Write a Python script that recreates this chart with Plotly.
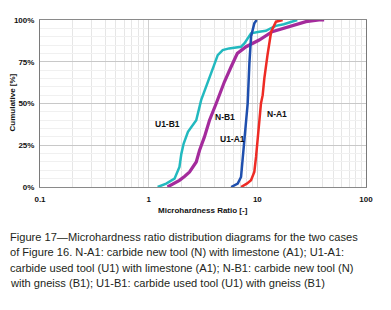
import math
import plotly.graph_objects as go

# ---- data ----
u1b1_ratio = [1.21, 1.45, 1.73, 1.92, 2.0, 2.1, 2.3, 2.74, 3.04, 3.3, 3.63, 4.0, 4.32, 4.8, 5.5, 6.4,
              7.08, 7.6, 8.1, 8.75, 10.4, 12.0, 13.7, 14.8, 17.5, 20.9, 23.3]
u1b1_cum = [0, 2, 5, 12, 20, 26, 33, 40, 52, 58, 65, 73, 79, 82, 83, 83.5,
            84, 86, 89, 92, 93, 93.5, 95.5, 96.5, 97.5, 99, 100]

nb1_ratio = [1.49, 1.7, 1.92, 2.15, 2.38, 2.74, 2.94, 3.26, 3.63, 4.18, 4.98, 5.74, 6.55, 7.88,
             10.4, 13.7, 19.7, 28.0, 37.0, 41.2]
nb1_cum = [0, 2, 4, 6.5, 9, 15, 22, 30, 40, 50, 63, 72, 80, 84,
           88, 93, 96, 99, 100, 100]

u1a1_ratio = [5.74, 6.6, 7.08, 7.33, 7.6, 7.88, 8.15, 8.45, 8.75, 9.38, 9.86]
u1a1_cum = [0, 2, 6, 18, 30, 42, 50, 74, 90, 98, 100]

na1_ratio = [7.08, 8.0, 8.75, 9.38, 9.73, 10.07, 10.4, 10.8, 11.2, 11.6, 12.4, 13.4, 14.85, 17.1]
na1_cum = [0, 2, 4, 9, 18, 30, 42, 50, 55, 65, 79, 93, 99, 100]

x_ticks = [0.1, 1, 10, 100]
x_tick_labels = ["0.1", "1", "10", "100"]
y_ticks = [0, 25, 50, 75, 100]
y_tick_labels = ["0%", "25%", "50%", "75%", "100%"]

series = [
    ("U1-B1", u1b1_ratio, u1b1_cum, "#22b9bf", 2.5),
    ("N-B1", nb1_ratio, nb1_cum, "#a42b9c", 3.2),
    ("U1-A1", u1a1_ratio, u1a1_cum, "#1f4fae", 2.5),
    ("N-A1", na1_ratio, na1_cum, "#ee2b25", 2.5),
]

labels = [
    ("U1-B1", 1.49, 37.7),
    ("N-B1", 5.09, 42.0),
    ("U1-A1", 5.9, 28.7),
    ("N-A1", 15.3, 43.7),
]

caption = [
    "Figure 17\u2014Microhardness ratio distribution diagrams for the two cases",
    "of Figure 16. N-A1: carbide new tool (N) with limestone (A1); U1-A1:",
    "carbide used tool (U1) with limestone (A1); N-B1: carbide new tool (N)",
    "with gneiss (B1); U1-B1: carbide used tool (U1) with gneiss (B1)",
]

FONT = "Liberation Sans, Arial, sans-serif"

fig = go.Figure()
for name, xs, ys, col, w in series:
    fig.add_trace(go.Scatter(x=xs, y=ys, mode="lines", name=name,
                             line=dict(color=col, width=w), showlegend=False))

# the page body has an 8px margin, so the figure is drawn from (8, 8)
OFF = 8
W, H = 391 - OFF, 310 - OFF
L, R, T, B = 40 - OFF, 25, 20 - OFF, 123
pw = W - L - R
ph = H - T - B

def px_x(xpx):
    return (xpx - OFF - L) / pw

def px_y(ypx):
    return (H - B - (ypx - OFF)) / ph

annotations = []
for txt, x, y in labels:
    annotations.append(dict(x=math.log10(x), y=y, xref="x", yref="y",
                            text=txt, showarrow=False,
                            font=dict(family=FONT, size=8.5, color="#111", weight="bold")))

# axis titles
annotations.append(dict(x=px_x(203), y=px_y(210), xref="paper", yref="paper",
                        text="Microhardness Ratio [-]", showarrow=False,
                        xanchor="center", yanchor="middle",
                        font=dict(family=FONT, size=8, color="#111", weight="bold")))
annotations.append(dict(x=px_x(11.5), y=px_y(103), xref="paper", yref="paper",
                        text="Cumulative [%]", showarrow=False, textangle=-90,
                        xanchor="center", yanchor="middle",
                        font=dict(family=FONT, size=8, color="#111", weight="bold")))

line_y = [236.7, 252.3, 267.8, 283.3]
for txt, ypx in zip(caption, line_y):
    annotations.append(dict(x=px_x(OFF), y=px_y(ypx),
                            xref="paper", yref="paper", xanchor="left", yanchor="middle",
                            text=txt, showarrow=False, align="left",
                            font=dict(family=FONT, size=11.1, color="#231f20")))

fig.update_layout(
    width=W, height=H,
    margin=dict(l=L, r=R, t=T, b=B, autoexpand=False),
    paper_bgcolor="white", plot_bgcolor="white",
    font=dict(family=FONT, color="#111"),
    annotations=annotations,
    xaxis=dict(
        type="log", range=[-1, 2], automargin=False,
        tickvals=x_ticks, ticktext=x_tick_labels,
        tickfont=dict(size=8, weight="bold", color="#111"),
        showgrid=True, gridcolor="#cfcfcf", gridwidth=1,
        minor=dict(dtick="D1", showgrid=True, gridcolor="#e6e6e6", gridwidth=1, ticks=""),
        showline=True, linecolor="#8a8a8a", linewidth=1, mirror=True,
        ticks="", zeroline=False, ticklabelstandoff=4,
    ),
    yaxis=dict(
        range=[0, 100], automargin=False,
        tickvals=y_ticks, ticktext=y_tick_labels,
        tickfont=dict(size=8, weight="bold", color="#111"),
        showgrid=True, gridcolor="#c8c8c8", gridwidth=1,
        minor=dict(dtick=5, showgrid=True, gridcolor="#f0f0f0", gridwidth=1, ticks=""),
        showline=True, linecolor="#7a7a7a", linewidth=1, mirror=True,
        ticks="", zeroline=False, ticklabelstandoff=3,
    ),
)

fig.write_html("out.html")
